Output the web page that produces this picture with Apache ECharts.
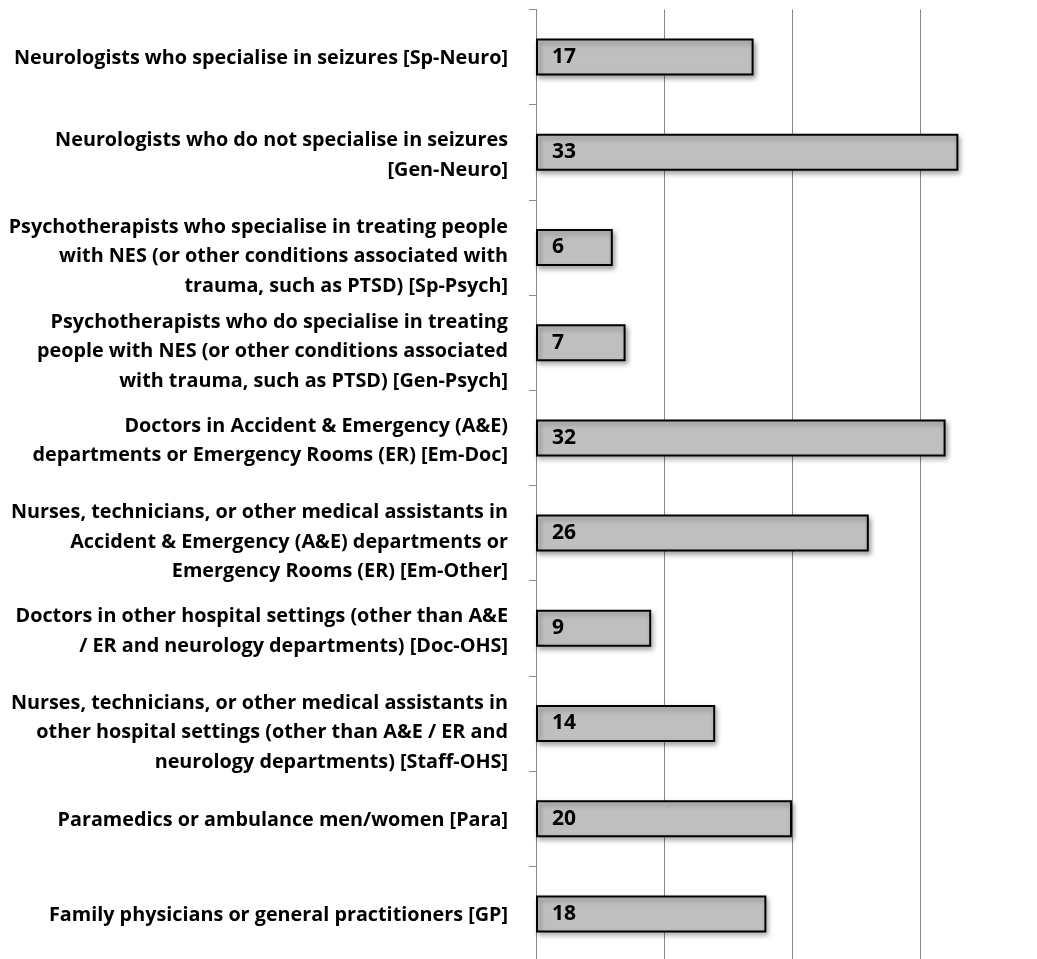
<!DOCTYPE html>
<html>
<head>
<meta charset="utf-8">
<script src="https://cdn.jsdelivr.net/npm/echarts@6/dist/echarts.min.js"></script>
<style>
html,body{margin:0;padding:0;background:#fff;}
#chart{width:1037px;height:959px;}
</style>
</head>
<body>
<div id="chart"></div>
<script>
const categories = [
  "Neurologists who specialise in seizures [Sp-Neuro]",
  "Neurologists who do not specialise in seizures\n[Gen-Neuro]",
  "Psychotherapists who specialise in treating people\nwith NES (or other conditions associated with\ntrauma, such as PTSD) [Sp-Psych]",
  "Psychotherapists who do specialise in treating\npeople with NES (or other conditions associated\nwith trauma, such as PTSD) [Gen-Psych]",
  "Doctors in Accident & Emergency (A&E)\ndepartments or Emergency Rooms (ER) [Em-Doc]",
  "Nurses, technicians, or other medical assistants in\nAccident & Emergency (A&E) departments or\nEmergency Rooms (ER) [Em-Other]",
  "Doctors in other hospital settings (other than A&E\n/ ER and neurology departments) [Doc-OHS]",
  "Nurses, technicians, or other medical assistants in\nother hospital settings (other than A&E / ER and\nneurology departments) [Staff-OHS]",
  "Paramedics or ambulance men/women [Para]",
  "Family physicians or general practitioners [GP]"
];
const values = [17, 33, 6, 7, 32, 26, 9, 14, 20, 18];
const axisTicks = [0, 10, 20, 30, 40];

// invisible spacer line above each wrapped label, to nudge it down (style only)
const spacerByLines = {1: 's1', 2: 's2', 3: 's3'};

const chart = echarts.init(document.getElementById('chart'), null, {renderer: 'canvas'});
chart.setOption({
  animation: false,
  backgroundColor: '#ffffff',
  textStyle: {fontFamily: 'Open Sans'},
  grid: {left: 536, width: 512, top: 9.5, height: 952, containLabel: false, outerBoundsMode: 'none'},
  xAxis: {
    type: 'value',
    min: axisTicks[0],
    max: axisTicks[axisTicks.length - 1],
    interval: 10,
    axisLine: {show: false},
    axisTick: {show: false},
    axisLabel: {show: false},
    splitLine: {show: true, lineStyle: {color: '#888888', width: 1}}
  },
  yAxis: {
    type: 'category',
    data: categories,
    inverse: true,
    axisLine: {show: true, lineStyle: {color: '#888888', width: 1}},
    axisTick: {show: true, length: 7, inside: false, lineStyle: {color: '#888888'}},
    axisLabel: {
      show: true,
      margin: 28,
      fontFamily: 'Open Sans',
      fontWeight: 'bold',
      fontSize: 19.8,
      lineHeight: 29.5,
      color: '#000',
      align: 'right',
      formatter: function (v) {
        const n = v.split('\n').length;
        return '{' + spacerByLines[n] + '| }\n' + v;
      },
      rich: {
        s1: {fontSize: 1, lineHeight: 3, height: 3},
        s2: {fontSize: 1, lineHeight: 6, height: 6},
        s3: {fontSize: 1, lineHeight: 18, height: 18}
      }
    }
  },
  series: [{
    type: 'bar',
    data: values,
    barWidth: 37,
    itemStyle: {
      color: '#bfbfbf',
      borderColor: '#000',
      borderWidth: 2,
      shadowColor: 'rgba(0,0,0,0.35)',
      shadowBlur: 5,
      shadowOffsetX: 2,
      shadowOffsetY: 3
    },
    label: {
      show: true,
      position: 'insideLeft',
      distance: 16,
      padding: [3, 0, 0, 0],
      fontFamily: 'Open Sans',
      fontWeight: 'bold',
      fontSize: 21,
      color: '#000'
    }
  }]
});
</script>
</body>
</html>
